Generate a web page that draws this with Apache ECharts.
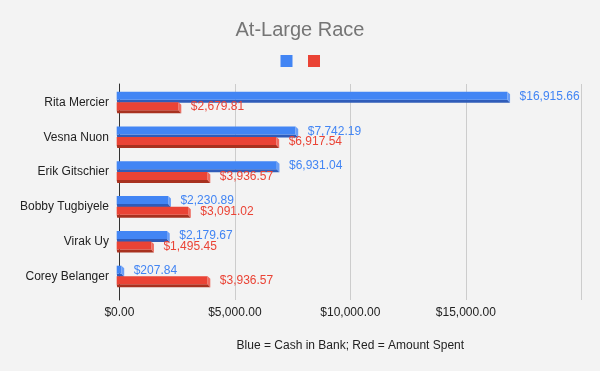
<!DOCTYPE html>
<html>
<head>
<meta charset="utf-8">
<script src="https://cdn.jsdelivr.net/npm/echarts@6/dist/echarts.min.js"></script>
<style>
html,body{margin:0;padding:0;background:#f3f3f3;}
#chart{width:600px;height:371px;}
</style>
</head>
<body>
<div id="chart"></div>
<script>
const candidates = ['Rita Mercier', 'Vesna Nuon', 'Erik Gitschier', 'Bobby Tugbiyele', 'Virak Uy', 'Corey Belanger'];
const cashInBank = [16915.66, 7742.19, 6931.04, 2230.89, 2179.67, 207.84];
const amountSpent = [2679.81, 6917.54, 3936.57, 3091.02, 1495.45, 3936.57];
const xTicks = [0, 5000, 10000, 15000, 20000];

const FONT = '"Liberation Sans", Arial, sans-serif';
const fmt = v => '$' + v.toLocaleString('en-US', {minimumFractionDigits: 2, maximumFractionDigits: 2});

const PLOT_LEFT = 119.4, PLOT_RIGHT = 18.7;

function makeRender(offset, main, dark, light) {
  return function (params, api) {
    const ci = api.value(0), v = api.value(1);
    const p0 = api.coord([0, ci]);
    const p1 = api.coord([v, ci]);
    const yc = p0[1];
    const x0 = p0[0] - 2.7;
    const xe = p1[0];
    const x1 = xe - 2.7;
    const top = yc + offset;
    return {
      type: 'group',
      children: [
        {type: 'polygon', shape: {points: [[x0, top + 8], [x1, top + 8], [xe, top + 11], [x0 + 0.5, top + 11]]}, style: {fill: dark}},
        {type: 'rect', shape: {x: x0, y: top, width: Math.max(x1 - x0, 0.5), height: 8}, style: {fill: main}},
        {type: 'polygon', shape: {points: [[x1, top], [xe, top + 2.5], [xe, top + 11], [x1, top + 8]]}, style: {fill: light}},
        {type: 'text', style: {text: fmt(v), x: xe + 9.5, y: top + 4.8, verticalAlign: 'middle', align: 'left', fill: main, font: '12px ' + FONT}}
      ]
    };
  };
}

const chart = echarts.init(document.getElementById('chart'));
chart.setOption({
  backgroundColor: '#f3f3f3',
  animation: false,
  textStyle: {fontFamily: FONT},
  title: {
    text: 'At-Large Race', left: 'center', top: 15,
    textStyle: {fontFamily: FONT, fontSize: 20, fontWeight: 'normal', color: '#757575'}
  },
  legend: {
    left: 275.5, top: 50, itemWidth: 12, itemHeight: 12, itemGap: 15.5,
    formatter: () => '',
    data: [
      {name: 'Cash in Bank', icon: 'rect', itemStyle: {color: '#4285f4'}},
      {name: 'Amount Spent', icon: 'rect', itemStyle: {color: '#ea4335'}}
    ]
  },
  grid: [
    {left: PLOT_LEFT, right: PLOT_RIGHT, top: 84, bottom: 71},
    {left: PLOT_LEFT, right: PLOT_RIGHT, top: 85.1, height: 208.8}
  ],
  xAxis: [
    {
      gridIndex: 0, type: 'value', min: xTicks[0], max: xTicks[xTicks.length - 1], interval: 5000,
      axisLine: {show: false}, axisTick: {show: false},
      splitLine: {show: true, lineStyle: {color: '#cccccc', width: 1}},
      axisLabel: {margin: 7, color: '#222', fontSize: 12, fontFamily: FONT,
        formatter: v => v >= 20000 ? '' : fmt(v)},
      name: 'Blue = Cash in Bank; Red = Amount Spent', nameLocation: 'middle', nameGap: 40,
      nameTextStyle: {color: '#222', fontSize: 12, fontFamily: FONT}
    },
    {gridIndex: 1, type: 'value', min: 0, max: 20000, show: false}
  ],
  yAxis: [
    {gridIndex: 0, type: 'value', axisLine: {show: true, lineStyle: {color: '#333', width: 1}},
      axisTick: {show: false}, axisLabel: {show: false}, splitLine: {show: false}},
    {gridIndex: 1, type: 'category', data: candidates, inverse: true,
      axisLine: {show: false}, axisTick: {show: false}, splitLine: {show: false},
      axisLabel: {margin: 10.5, color: '#222', fontSize: 12, fontFamily: FONT}}
  ],
  series: [
    {
      name: 'Cash in Bank', type: 'custom', xAxisIndex: 1, yAxisIndex: 1,
      itemStyle: {color: '#4285f4'},
      encode: {x: 1, y: 0},
      data: cashInBank.map((v, i) => [i, v]),
      renderItem: makeRender(-10.8, '#4285f4', '#2f5cb9', '#6a9ef6')
    },
    {
      name: 'Amount Spent', type: 'custom', xAxisIndex: 1, yAxisIndex: 1,
      itemStyle: {color: '#ea4335'},
      encode: {x: 1, y: 0},
      data: amountSpent.map((v, i) => [i, v]),
      renderItem: makeRender(-0.2, '#ea4335', '#a8311f', '#ef6c60')
    }
  ]
});
</script>
</body>
</html>
